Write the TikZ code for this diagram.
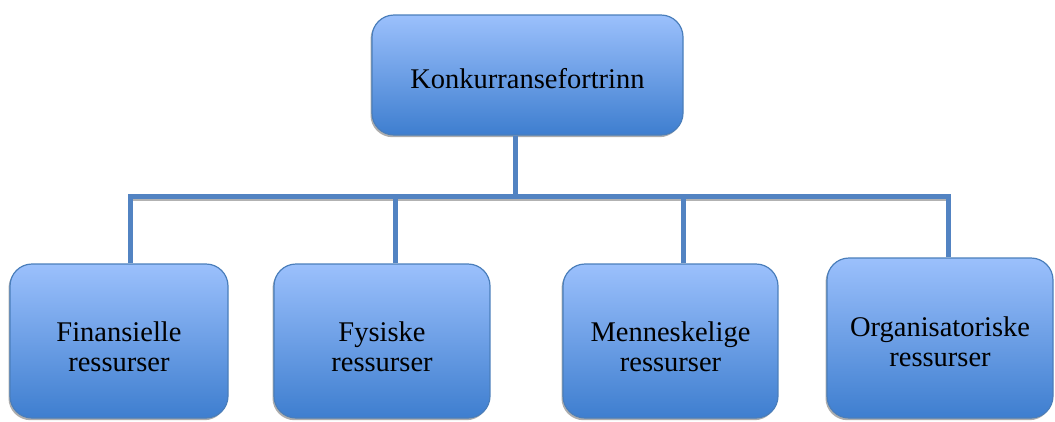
\documentclass[tikz,border=0pt]{standalone}
\usepackage{fontspec}
\setmainfont{Liberation Serif}
\usetikzlibrary{shadows,calc}
\definecolor{boxtop}{HTML}{9BC0FC}
\definecolor{boxbot}{HTML}{3E7ECF}
\definecolor{boxline}{HTML}{4A7EBB}
\definecolor{connc}{HTML}{5283C2}
\tikzset{
  boxnode/.style={draw=boxline, line width=1.2pt, rounded corners=22pt,
    top color=boxtop, bottom color=boxbot,
    drop shadow={shadow xshift=-1.5pt, shadow yshift=-2.2pt, fill=black!40, opacity=0.8}},
  boxtext/.style={align=center, font=\fontsize{28.5}{30}\selectfont, text=black},
  conn/.style={draw=connc, line width=5pt},
  connshadow/.style={draw=black!30, line width=5pt}
}
\begin{document}
\begin{tikzpicture}[x=1pt,y=-1pt]
\useasboundingbox (0,0) rectangle (1055,421);
\node[boxnode, minimum width=311pt, minimum height=120pt] (top) at (527.5,75) {};
\node[boxnode, minimum width=218pt, minimum height=154pt] (b1) at (119,341) {};
\node[boxnode, minimum width=216pt, minimum height=154pt] (b2) at (382,341) {};
\node[boxnode, minimum width=215pt, minimum height=154pt] (b3) at (670.5,341) {};
\node[boxnode, minimum width=226pt, minimum height=160pt] (b4) at (940,338) {};
\node[boxtext] (t0) at (527.5,79) {Konkurransefortrinn};
\node[boxtext] (t1) at (119,347) {Finansielle\\ressurser};
\node[boxtext] (t2) at (382,347) {Fysiske\\ressurser};
\node[boxtext] (t3) at (670.5,347) {Menneskelige\\ressurser};
\node[boxtext] (t4) at (940,342) {Organisatoriske\\ressurser};
\coordinate (hub) at (515,196);
\coordinate (barL) at (130,196);
\coordinate (barR) at (948,196);
\draw[connshadow] ([yshift=-2.5pt]barL) -- ([yshift=-2.5pt]barR);
\draw[conn] (top.south -| hub) -- (hub);
\draw[conn] ([xshift=11pt]b1.north) -- ([xshift=11pt]b1.north |- barL) -- ([xshift=-2.5pt]barR);
\draw[conn] ([xshift=13pt]b2.north) -- ([xshift=13pt]b2.north |- barL);
\draw[conn] ([xshift=12.5pt]b3.north) -- ([xshift=12.5pt]b3.north |- barL);
\draw[conn] ([xshift=8pt]b4.north) -- ([xshift=8pt,yshift=2.5pt]b4.north |- barL);
\end{tikzpicture}
\end{document}
